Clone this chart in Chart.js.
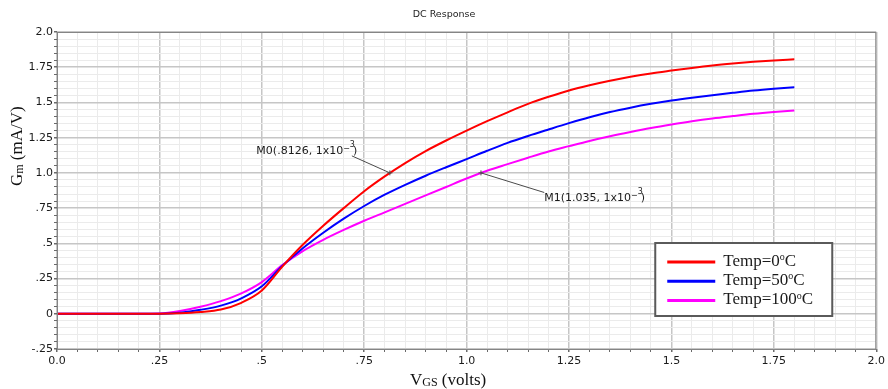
<!DOCTYPE html>
<html>
<head>
<meta charset="utf-8">
<script src="https://cdn.jsdelivr.net/npm/chart.js@4.4.1/dist/chart.umd.min.js"></script>
<style>
html, body { margin: 0; padding: 0; background: #fff; }
#wrap { width: 888px; height: 389px; }
</style>
</head>
<body>
<div id="wrap"><canvas id="dcChart" width="888" height="389"></canvas></div>
<script>
// data (Gm in mA/V vs VGS in volts)
const vgs = [0, 0.05, 0.1, 0.15, 0.2, 0.25, 0.3, 0.35, 0.4, 0.45, 0.5, 0.55, 0.6, 0.65, 0.7, 0.75, 0.8, 0.85, 0.9, 0.95,
             1.0, 1.05, 1.1, 1.15, 1.2, 1.25, 1.3, 1.35, 1.4, 1.45, 1.5, 1.55, 1.6, 1.65, 1.7, 1.75, 1.8];
const gmTemp0 = [0, 0, 0, 0, 0, 0, 0.003, 0.012, 0.03, 0.078, 0.165, 0.335, 0.49, 0.625, 0.75, 0.87, 0.975, 1.07, 1.155, 1.23,
                 1.30, 1.367, 1.43, 1.49, 1.54, 1.585, 1.622, 1.654, 1.682, 1.706, 1.726, 1.745, 1.762, 1.776, 1.788, 1.798, 1.806];
const gmTemp50 = [0, 0, 0, 0, 0, 0, 0.008, 0.028, 0.058, 0.11, 0.195, 0.34, 0.465, 0.575, 0.675, 0.765, 0.845, 0.915, 0.98, 1.04,
                  1.098, 1.157, 1.213, 1.262, 1.308, 1.353, 1.395, 1.432, 1.463, 1.49, 1.513, 1.533, 1.551, 1.568, 1.584, 1.597, 1.608];
const gmTemp100 = [0, 0, 0, 0, 0, 0.002, 0.02, 0.05, 0.09, 0.145, 0.225, 0.345, 0.445, 0.525, 0.595, 0.66, 0.72, 0.78, 0.84, 0.90,
                   0.96, 1.015, 1.062, 1.108, 1.152, 1.19, 1.227, 1.26, 1.29, 1.318, 1.343, 1.366, 1.386, 1.403, 1.419, 1.432, 1.443];

const seriesLabels = ['Temp=0°C', 'Temp=50°C', 'Temp=100°C'];
const seriesColors = ['#ff0000', '#0000ff', '#ff00ff'];

const xTickLabels = ['0.0', '.25', '.5', '.75', '1.0', '1.25', '1.5', '1.75', '2.0'];
const yTickLabels = ['-.25', '0', '.25', '.5', '.75', '1.0', '1.25', '1.5', '1.75', '2.0'];

const markerNames = ['M0', 'M1'];
const markerX = [0.8126, 1.035];
const markerY = [1.0, 1.0];
const markerText = ['M0(.8126, 1x10', 'M1(1.035, 1x10'];

const chartTitle = 'DC Response';

const X_MIN = 0, X_MAX = 2, Y_MIN = -0.25, Y_MAX = 2;
const MAJOR = 0.25, MINOR = 0.05;

function majorIndex(v, min) {
    const q = (v - min) / MAJOR;
    const k = Math.round(q);
    return Math.abs(q - k) < 1e-6 ? k : -1;
}

function makeSeries(ys) {
    return vgs.map((x, i) => ({ x: x, y: ys[i] }));
}

// text with a raised or lowered small part
function drawParts(ctx, parts, x, y) {
    parts.forEach(p => {
        ctx.font = p.font;
        ctx.fillText(p.text, x, y + (p.dy || 0));
        x += ctx.measureText(p.text).width + (p.gap || 0);
    });
    return x;
}

const decorPlugin = {
    id: 'decor',
    afterDatasetsDraw(chart) {
        const ctx = chart.ctx;
        const area = chart.chartArea;
        const xs = chart.scales.x, ys = chart.scales.y;
        ctx.save();

        // frame
        ctx.strokeStyle = '#858585';
        ctx.lineWidth = 1;
        ctx.strokeRect(area.left + 0.5, area.top + 0.5, area.right - area.left - 1, area.bottom - area.top);

        // markers
        const offs = [
            { tx: -133.5, ty: -19, lx: -38, ly: -17 },
            { tx: 63.3, ty: 28.5, lx: 63.3, ly: 19.6 }
        ];
        markerNames.forEach((name, i) => {
            const px = xs.getPixelForValue(markerX[i]);
            const py = ys.getPixelForValue(markerY[i]);
            const o = offs[i];
            ctx.strokeStyle = '#4a4a4a';
            ctx.lineWidth = 1;
            ctx.beginPath();
            ctx.moveTo(px, py);
            ctx.lineTo(px + o.lx, py + o.ly);
            ctx.stroke();
            ctx.beginPath();
            ctx.moveTo(px - 2.5, py); ctx.lineTo(px + 2.5, py);
            ctx.moveTo(px, py - 2.5); ctx.lineTo(px, py + 2.5);
            ctx.stroke();
            ctx.fillStyle = '#1a1a1a';
            ctx.textAlign = 'left';
            ctx.textBaseline = 'alphabetic';
            drawParts(ctx, [
                { text: markerText[i], font: '11px "DejaVu Sans"' },
                { text: '\u2212', font: '8px "DejaVu Sans"', dy: -3 },
                { text: '3', font: '8px "DejaVu Sans"', dy: -7, gap: -2 },
                { text: ')', font: '11px "DejaVu Sans"' }
            ], px + o.tx, py + o.ty);
        });

        // legend box
        const bx = area.right - 221, by = area.bottom - 106, bw = 177, bh = 73;
        ctx.fillStyle = '#ffffff';
        ctx.fillRect(bx, by, bw, bh);
        ctx.strokeStyle = '#5a5a5a';
        ctx.lineWidth = 2;
        ctx.strokeRect(bx, by, bw, bh);
        seriesLabels.forEach((lab, i) => {
            const ly = by + 19 + i * 19.3;
            ctx.strokeStyle = seriesColors[i];
            ctx.lineWidth = 3;
            ctx.beginPath();
            ctx.moveTo(bx + 12, ly);
            ctx.lineTo(bx + 60, ly);
            ctx.stroke();
            ctx.fillStyle = '#1a1a1a';
            const bits = lab.split('°');
            drawParts(ctx, [
                { text: bits[0], font: '17px "Liberation Serif"' },
                { text: 'o', font: '10px "Liberation Serif"', dy: -5.5 },
                { text: bits[1], font: '17px "Liberation Serif"' }
            ], bx + 68, ly + 3.5);
        });

        // title
        ctx.fillStyle = '#222';
        ctx.font = '9.5px "DejaVu Sans"';
        ctx.textAlign = 'center';
        ctx.textBaseline = 'middle';
        ctx.fillText(chartTitle, chart.width / 2, 15);

        // x axis title  V_GS (volts)
        ctx.textAlign = 'left';
        ctx.textBaseline = 'alphabetic';
        ctx.fillStyle = '#111';
        drawParts(ctx, [
            { text: 'V', font: '17px "Liberation Serif"' },
            { text: 'GS', font: '12px "Liberation Serif"', dy: 1 },
            { text: ' (volts)', font: '17px "Liberation Serif"' }
        ], 410, 385);

        // y axis title  G_m (mA/V)
        ctx.save();
        ctx.translate(22, 186);
        ctx.rotate(-Math.PI / 2);
        drawParts(ctx, [
            { text: 'G', font: '17px "Liberation Serif"' },
            { text: 'm', font: '12px "Liberation Serif"', dy: 1 },
            { text: ' (mA/V)', font: '17px "Liberation Serif"' }
        ], 0, 0);
        ctx.restore();

        ctx.restore();
    }
};

new Chart(document.getElementById('dcChart'), {
    type: 'line',
    data: {
        datasets: seriesLabels.map((lab, i) => ({
            label: lab,
            data: makeSeries([gmTemp0, gmTemp50, gmTemp100][i]),
            borderColor: seriesColors[i],
            backgroundColor: seriesColors[i],
            borderWidth: 2,
            pointRadius: 0,
            cubicInterpolationMode: 'monotone',
            fill: false
        }))
    },
    options: {
        responsive: false,
        animation: false,
        events: [],
        layout: { padding: { top: 32, right: 11, left: 0, bottom: 0 } },
        plugins: {
            legend: { display: false },
            title: { display: false },
            tooltip: { enabled: false }
        },
        scales: {
            x: {
                type: 'linear',
                min: X_MIN,
                max: X_MAX,
                afterFit: s => { s.height = 40; },
                border: { display: false },
                grid: {
                    color: c => majorIndex(c.tick.value, X_MIN) >= 0 ? '#c6c6c6' : '#ebebeb',
                    lineWidth: c => majorIndex(c.tick.value, X_MIN) >= 0 ? 1.5 : 1,
                    tickColor: '#6a6a6a',
                    tickLength: 3
                },
                ticks: {
                    stepSize: MINOR,
                    autoSkip: false,
                    maxRotation: 0,
                    padding: 3,
                    color: '#1a1a1a',
                    font: { family: 'DejaVu Sans', size: 11 },
                    callback: v => { const k = majorIndex(v, X_MIN); return k >= 0 ? xTickLabels[k] : ''; }
                }
            },
            y: {
                type: 'linear',
                min: Y_MIN,
                max: Y_MAX,
                afterFit: s => { s.width = 57; },
                border: { display: false },
                grid: {
                    color: c => majorIndex(c.tick.value, Y_MIN) >= 0 ? '#c6c6c6' : '#ebebeb',
                    lineWidth: c => majorIndex(c.tick.value, Y_MIN) >= 0 ? 1.5 : 1,
                    tickColor: '#6a6a6a',
                    tickLength: 3
                },
                ticks: {
                    stepSize: MINOR,
                    autoSkip: false,
                    padding: 1,
                    color: '#1a1a1a',
                    font: { family: 'DejaVu Sans', size: 11 },
                    callback: v => { const k = majorIndex(v, Y_MIN); return k >= 0 ? yTickLabels[k] : ''; }
                }
            }
        }
    },
    plugins: [decorPlugin]
});
</script>
</body>
</html>
